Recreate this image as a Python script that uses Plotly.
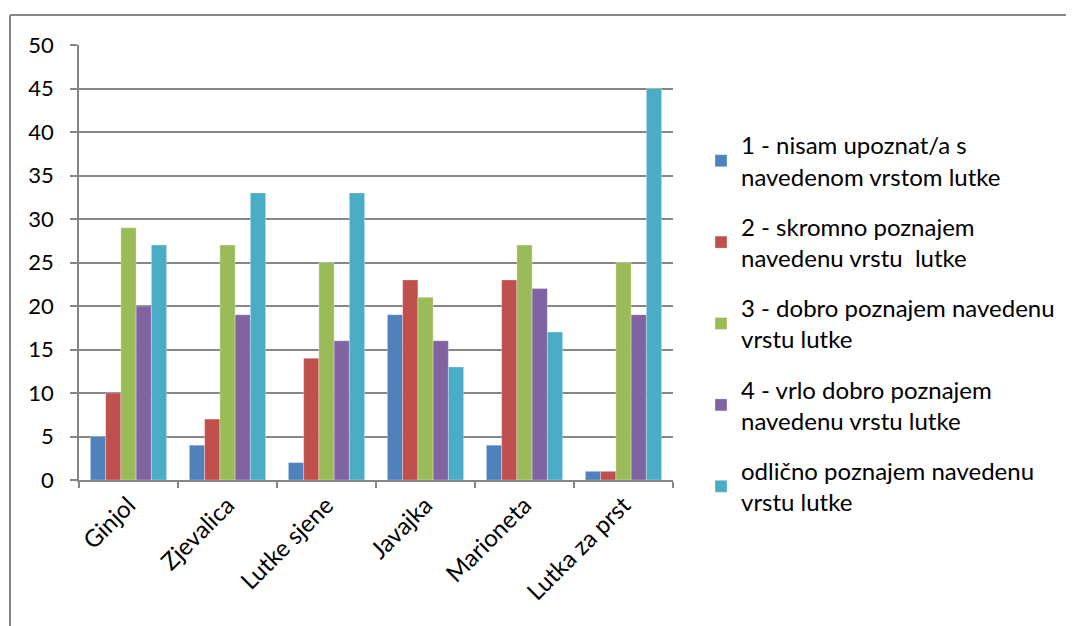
import plotly.graph_objects as go

categories = ["Ginjol", "Zjevalica", "Lutke sjene", "Javajka", "Marioneta", "Lutka za prst"]
series_names = [
    "1 - nisam upoznat/a s<br>navedenom vrstom lutke",
    "2 - skromno poznajem<br>navedenu vrstu  lutke",
    "3 - dobro poznajem navedenu<br>vrstu lutke",
    "4 - vrlo dobro poznajem<br>navedenu vrstu lutke",
    "odlično poznajem navedenu<br>vrstu lutke",
]
s1 = [5, 4, 2, 19, 4, 1]
s2 = [10, 7, 14, 23, 23, 1]
s3 = [29, 27, 25, 21, 27, 25]
s4 = [20, 19, 16, 16, 22, 19]
s5 = [27, 33, 33, 13, 17, 45]
colors = ["#4F81BD", "#C0504D", "#9BBB59", "#8064A2", "#4BACC6"]
y_ticks = [0, 5, 10, 15, 20, 25, 30, 35, 40, 45, 50]

FONT = "Lato, 'Open Sans', sans-serif"
fig = go.Figure()
for i, (name, vals) in enumerate(zip(series_names, [s1, s2, s3, s4, s5])):
    fig.add_trace(go.Bar(
        x=categories, y=vals, name=name,
        marker=dict(color=colors[i], line=dict(color="rgba(255,255,255,0.6)", width=0.5)),
        legendgroup=f"g{i}",
    ))

OFF = 8  # page body margin
W, H = 1074 - OFF, 626 - OFF
PL, PR, PT, PB = 79, 673, 45, 480  # plot area in window pixels
l, t = PL - OFF, PT - OFF
pw, ph = PR - PL, PB - PT
r = W - l - pw
b = H - t - ph


def px_x(x):
    return (x - OFF - l) / pw


def px_y(y):
    return (t + ph - (y - OFF)) / ph


fig.update_layout(
    width=W, height=H,
    margin=dict(l=l, r=r, t=t, b=b, autoexpand=False),
    paper_bgcolor="white", plot_bgcolor="white",
    barmode="group", bargap=0.23, bargroupgap=0,
    font=dict(family=FONT, size=22, color="#000000"),
    legend=dict(
        x=px_x(701), y=px_y(123), xanchor="left", yanchor="top",
        font=dict(family=FONT, size=24, color="#000000"),
        tracegroupgap=16, itemwidth=30,
        bgcolor="rgba(0,0,0,0)",
    ),
    showlegend=True,
    xaxis=dict(
        tickangle=-45, showline=True, linecolor="#868686", linewidth=1.5,
        ticks="outside", tickson="boundaries", ticklen=6, tickcolor="#868686", tickwidth=1.5,
        showgrid=False, tickfont=dict(family=FONT, size=24, color="#000000"),
    ),
    yaxis=dict(
        range=[0, 50], tickvals=y_ticks, showline=True, linecolor="#868686", linewidth=1.5,
        ticks="outside", ticklen=7, tickcolor="#868686", tickwidth=1.5,
        showgrid=True, gridcolor="#868686", gridwidth=1.5, zeroline=False,
        ticklabelstandoff=12,
        tickfont=dict(family=FONT, size=22, color="#000000"),
    ),
    shapes=[
        dict(type="line", xref="paper", yref="paper",
             x0=px_x(10), x1=px_x(1080), y0=px_y(15), y1=px_y(15),
             line=dict(color="#868686", width=2)),
        dict(type="line", xref="paper", yref="paper",
             x0=px_x(10), x1=px_x(10), y0=px_y(15), y1=px_y(640),
             line=dict(color="#868686", width=2)),
    ],
)

fig.write_html("out.html")
